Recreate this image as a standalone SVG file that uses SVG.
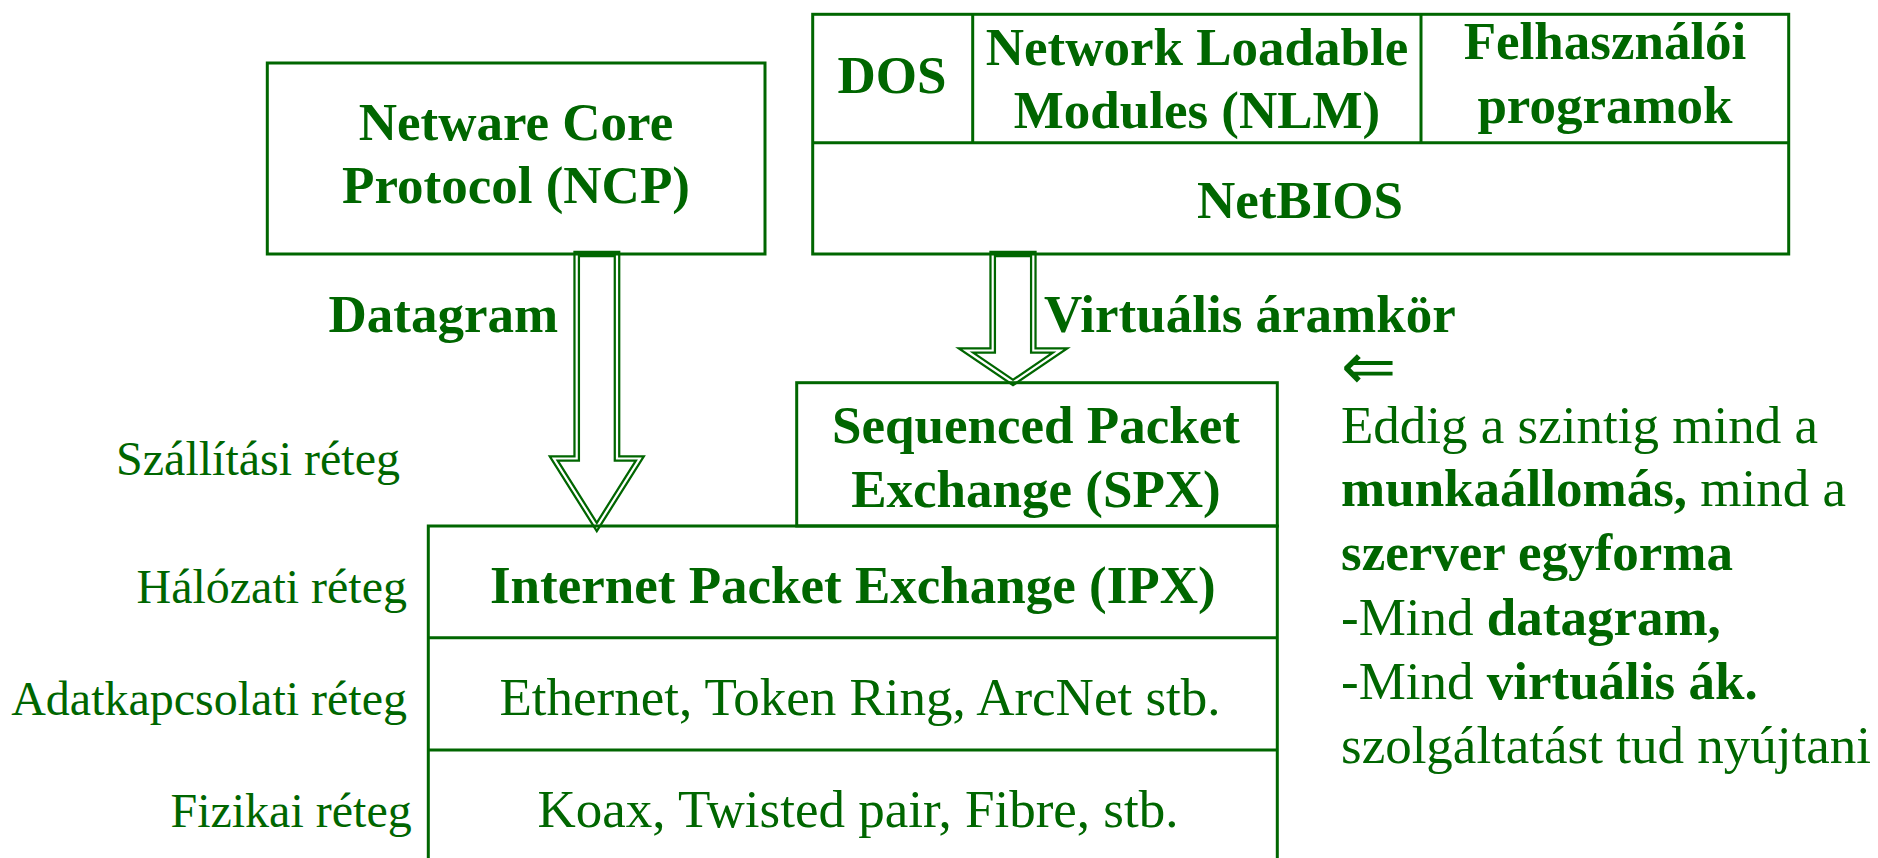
<svg xmlns="http://www.w3.org/2000/svg" width="1878" height="858" viewBox="0 0 1878 858">
<style>
.box{fill:none;stroke:#006600;stroke-width:3}
.ln{stroke:#006600;stroke-width:3}
.arO{fill:none;stroke:#006600;stroke-width:6.7;stroke-linejoin:miter;stroke-miterlimit:10}
.arI{fill:none;stroke:#ffffff;stroke-width:2.2;stroke-linejoin:miter;stroke-miterlimit:10}
text{font-family:"Liberation Serif","Times New Roman",serif;fill:#006600}
.b{font-weight:bold;font-size:53px}
.r{font-size:53px}
.l{font-size:48px;text-anchor:end}
.m{text-anchor:middle}
</style>
<rect width="1878" height="858" fill="#ffffff"/>
<g id="connectors">
<path class="arO" d="M576.7 254 V458.5 H553.8 L596.8 527 L639.8 458.5 H617 V254 Z"/>
<path class="arI" d="M576.7 254 V458.5 H553.8 L596.8 527 L639.8 458.5 H617 V254 Z"/>
<path class="arO" d="M992.7 254 V350.5 H966 L1013 382.5 L1060 350.5 H1033.3 V254 Z"/>
<path class="arI" d="M992.7 254 V350.5 H966 L1013 382.5 L1060 350.5 H1033.3 V254 Z"/>
<text class="b" x="328.5" y="331.7">Datagram</text>
<text class="b" x="1044" y="331.7">Virtuális áramkör</text>
</g>
<g id="ncp">
<rect class="box" x="267.3" y="63" width="497.7" height="191"/>
<text class="b m" x="516" y="140">Netware Core</text>
<text class="b m" x="516" y="203.3">Protocol (NCP)</text>
</g>
<g id="upper">
<rect class="box" x="812.7" y="14.3" width="976" height="239.7"/>
<line class="ln" x1="812.7" y1="142.7" x2="1788.7" y2="142.7"/>
<line class="ln" x1="972.7" y1="14.3" x2="972.7" y2="142.7"/>
<line class="ln" x1="1421" y1="14.3" x2="1421" y2="142.7"/>
</g>
<g id="dos"><text class="b m" x="892" y="93">DOS</text></g>
<g id="nlm">
<text class="b m" x="1197" y="65">Network Loadable</text>
<text class="b m" x="1197" y="128">Modules (NLM)</text>
</g>
<g id="user">
<text class="b m" x="1605" y="59.3">Felhasználói</text>
<text class="b m" x="1605" y="123.3">programok</text>
</g>
<g id="netbios"><text class="b m" x="1300" y="218">NetBIOS</text></g>
<g id="spx">
<rect class="box" x="796.7" y="382.7" width="480.6" height="143.3"/>
<text class="b m" x="1036" y="442.7">Sequenced Packet</text>
<text class="b m" x="1036" y="506.7">Exchange (SPX)</text>
</g>
<g id="ipx">
<path class="box" d="M428.3 870 V526 H1277.3 V870"/>
<line class="ln" x1="428.3" y1="637.7" x2="1277.3" y2="637.7"/>
<text class="b m" x="852.8" y="603.3">Internet Packet Exchange (IPX)</text>
</g>
<g id="datalink">
<line class="ln" x1="428.3" y1="750" x2="1277.3" y2="750"/>
<text class="r m" x="860" y="715">Ethernet, Token Ring, ArcNet stb.</text>
</g>
<g id="physical">
<text class="r m" x="858" y="826.7">Koax, Twisted pair, Fibre, stb.</text>
</g>
<g id="layers">
<text class="l" x="400" y="475">Szállítási réteg</text>
<text class="l" x="407" y="603.3">Hálózati réteg</text>
<text class="l" x="407" y="715">Adatkapcsolati réteg</text>
<text class="l" x="411.7" y="827.3">Fizikai réteg</text>
</g>
<g id="note">
<text x="1341" y="389" style="font-size:66px">⇐</text>
<text class="r" x="1341" y="443.3">Eddig a szintig mind a</text>
<text class="r" x="1341" y="506"><tspan font-weight="bold">munkaállomás,</tspan> mind a</text>
<text class="r" x="1341" y="570" font-weight="bold">szerver egyforma</text>
<text class="r" x="1341" y="635">-Mind <tspan font-weight="bold">datagram,</tspan></text>
<text class="r" x="1341" y="699.3">-Mind <tspan font-weight="bold">virtuális ák.</tspan></text>
<text class="r" x="1341" y="763.3">szolgáltatást tud nyújtani</text>
</g>
</svg>
